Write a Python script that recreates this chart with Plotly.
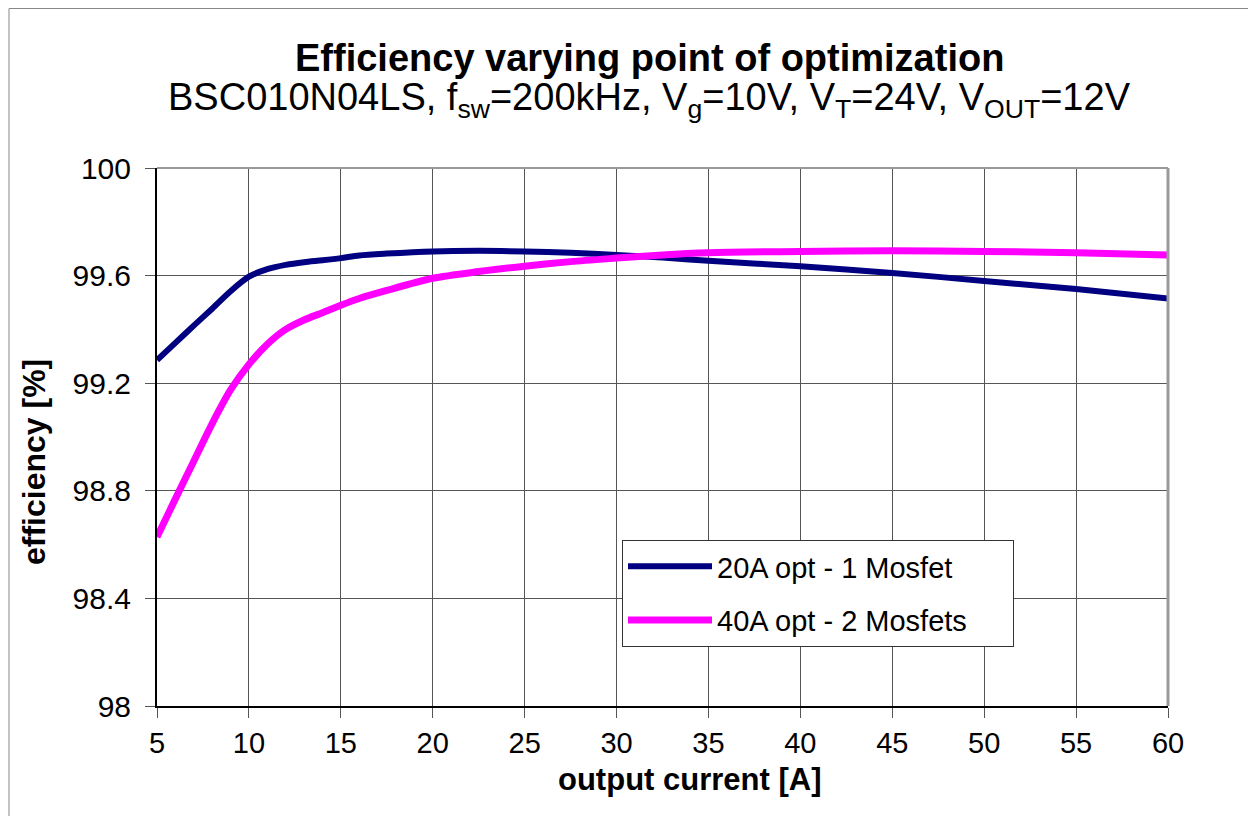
import plotly.graph_objects as go

current = [5, 6, 7, 8, 9, 10, 11, 12, 13, 14, 15, 16, 17.5, 20, 22.5, 25, 27.5, 30, 32.5, 35, 40, 45, 50, 55, 60]
eff_1mosfet = [99.286, 99.35, 99.414, 99.477, 99.542, 99.596, 99.624, 99.64, 99.65, 99.657, 99.665, 99.675, 99.682, 99.69, 99.692, 99.69, 99.685, 99.677, 99.667, 99.655, 99.635, 99.61, 99.58, 99.55, 99.515]
eff_2mosfets = [98.628, 98.77, 98.91, 99.05, 99.175, 99.27, 99.345, 99.40, 99.435, 99.462, 99.49, 99.515, 99.545, 99.59, 99.615, 99.635, 99.652, 99.665, 99.677, 99.685, 99.69, 99.692, 99.69, 99.685, 99.677]
series_names = ["20A opt - 1 Mosfet", "40A opt - 2 Mosfets"]

x_ticks = [5, 10, 15, 20, 25, 30, 35, 40, 45, 50, 55, 60]
y_ticks = [98, 98.4, 98.8, 99.2, 99.6, 100]
y_tick_labels = ["98", "98.4", "98.8", "99.2", "99.6", "100"]

FONT = "Liberation Sans, Arial, sans-serif"

# page has an 8px body margin: figure placed at (8, 8)
PL, PT, PW, PH = 157, 168, 1011, 538  # plot area in page pixels


def px(xp):
    return (xp - PL) / PW


def py(yp):
    return (PT + PH - yp) / PH


PAD = "\u00a0" * 5

fig = go.Figure()
fig.add_trace(go.Scatter(x=current, y=eff_1mosfet, mode="lines", name=series_names[0] + PAD,
                         legendgroup="a",
                         line=dict(color="#000080", width=6, shape="spline", smoothing=0.8)))
fig.add_trace(go.Scatter(x=current, y=eff_2mosfets, mode="lines", name=series_names[1] + PAD,
                         legendgroup="b",
                         line=dict(color="#FF00FF", width=7, shape="spline", smoothing=0.8)))

fig.update_layout(
    width=1248, height=808,
    margin=dict(l=PL - 8, r=88, t=PT - 8, b=808 - (PT - 8) - PH),
    paper_bgcolor="white", plot_bgcolor="white",
    font=dict(family=FONT, color="black", size=29),
    showlegend=True,
    legend=dict(x=px(622), y=py(540), xanchor="left", yanchor="top",
                bgcolor="white", bordercolor="#333333", borderwidth=1,
                font=dict(size=29, family=FONT), tracegroupgap=13, itemwidth=84),
    xaxis=dict(range=[5, 60], tickvals=x_ticks, showgrid=True, gridcolor="#555555", gridwidth=1,
               ticks="outside", ticklen=10, tickcolor="#555555", showline=True, linecolor="black",
               linewidth=2, zeroline=False, tickfont=dict(size=29)),
    yaxis=dict(range=[98, 100], tickvals=y_ticks, ticktext=y_tick_labels, showgrid=True,
               gridcolor="#555555", gridwidth=1, ticks="outside", ticklen=10, tickcolor="#555555",
               showline=True, linecolor="black", linewidth=2, zeroline=False, tickfont=dict(size=30),
               ticklabelstandoff=8),
)

# top and right plot border
fig.add_shape(type="line", xref="paper", yref="paper", x0=0, x1=1, y0=1, y1=1,
              line=dict(color="#999999", width=2))
fig.add_shape(type="line", xref="paper", yref="paper", x0=1, x1=1, y0=0, y1=1,
              line=dict(color="#999999", width=3))

# outer chart frame (left & top edges visible)
fig.add_shape(type="line", xref="paper", yref="paper",
              x0=px(9), x1=px(1256), y0=py(8.5), y1=py(8.5),
              line=dict(color="#888888", width=1))
fig.add_shape(type="line", xref="paper", yref="paper",
              x0=px(9), x1=px(9), y0=py(8.5), y1=py(816),
              line=dict(color="#888888", width=1))

fig.add_annotation(text="<b>Efficiency varying point of optimization</b>", xref="paper", yref="paper",
                   x=px(649), y=py(58), showarrow=False,
                   font=dict(size=38, family=FONT), xanchor="center", yanchor="middle")
fig.add_annotation(text="BSC010N04LS, f<sub>sw</sub>=200kHz, V<sub>g</sub>=10V, V<sub>T</sub>=24V, V<sub>OUT</sub>=12V",
                   xref="paper", yref="paper",
                   x=px(649), y=py(100), showarrow=False,
                   font=dict(size=38, family=FONT), xanchor="center", yanchor="middle")
fig.add_annotation(text="<b>output current [A]</b>", xref="paper", yref="paper",
                   x=px(689), y=py(780), showarrow=False,
                   font=dict(size=31, family=FONT), xanchor="center", yanchor="middle")
fig.add_annotation(text="<b>efficiency [%]</b>", xref="paper", yref="paper",
                   x=px(34), y=py(462), showarrow=False, textangle=-90,
                   font=dict(size=32, family=FONT), xanchor="center", yanchor="middle")

fig.write_html("out.html")
